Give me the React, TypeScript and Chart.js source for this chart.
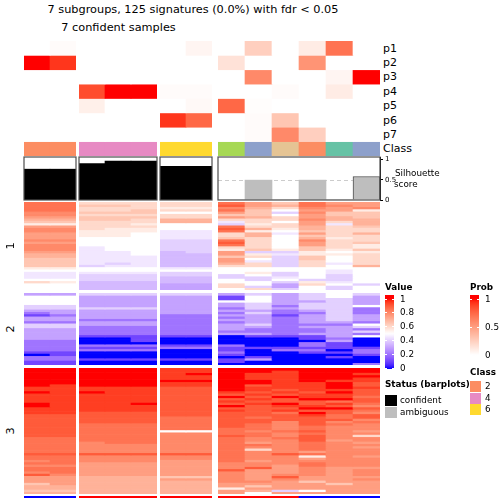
import React, { useEffect, useRef } from "react";
import { Chart, registerables } from "chart.js";

Chart.register(...registerables);

const FONT = '"DejaVu Sans", "Liberation Sans", Arial, sans-serif';

// ---------------- data ----------------
const titleLine1 = "7 subgroups, 125 signatures (0.0%) with fdr < 0.05";
const titleLine2 = "7 confident samples";

const sampleNames = ["s01", "s02", "s03", "s04", "s05", "s06", "s07", "s08", "s09", "s10", "s11", "s12", "s13"];
const sampleClass = [2, 2, 4, 4, 4, 6, 6, 5, 3, 7, 2, 1, 3];
const sampleStatus = ["confident", "confident", "confident", "confident", "confident", "confident", "confident",
  "ambiguous", "ambiguous", "ambiguous", "ambiguous", "ambiguous", "ambiguous"];
const silhouetteScore = [0.76, 0.76, 0.9, 0.96, 0.96, 0.83, 0.83, 0, 0.49, 0, 0.49, 0, 0.58];

const probNames = ["p1", "p2", "p3", "p4", "p5", "p6", "p7"];
const probP1 = [0, 0.02, 0, 0, 0, 0, 0.05, 0, 0.25, 0, 0.1, 0.7, 0];
const probP2 = [1, 0.92, 0, 0, 0, 0, 0, 0.15, 0, 0, 0.55, 0, 0];
const probP3 = [0, 0, 0, 0, 0, 0, 0, 0, 0.6, 0, 0, 0.05, 1];
const probP4 = [0, 0, 0.85, 1, 1, 0.02, 0.02, 0, 0, 0.02, 0, 0.1, 0];
const probP5 = [0, 0, 0.08, 0, 0, 0, 0.03, 0.75, 0.01, 0, 0, 0, 0];
const probP6 = [0, 0, 0, 0, 0, 0.92, 0.75, 0, 0.02, 0.3, 0, 0, 0];
const probP7 = [0, 0, 0, 0, 0, 0, 0, 0, 0.02, 0.6, 0.25, 0, 0];

const classColors: Record<number, string> = {
  1: "#66C2A5", 2: "#FC8D62", 3: "#8DA0CB", 4: "#E78AC3", 5: "#A6D854", 6: "#FFD92F", 7: "#E5C494",
};
const legendClasses = [2, 4, 6];
const valueTicks = [1, 0.8, 0.6, 0.4, 0.2, 0];
const probTicks = [1, 0.5, 0];
const silhouetteTicks = [0, 0.5, 1];

// heatmap values: one character per sample; value = position in VALUE_CODE / 20
// ("0" = 0, "A" = 0.5, "K" = 1)
const VALUE_CODE = "0123456789ABCDEFGHIJK";
const rowGroup1Codes = [
  "HHCCCCCHFDHFF", "HHDDCCCIFEHGF", "HHCCCBBGECGFG", "HHCCDCCHDAFFB", "GGDDDAAFD8GDD",
  "GGCCCCCDDAFDD", "FFDDDCCFECFED", "EEDDCEECCCGEE", "DDCCCEE9CAFCE", "BBCCBAA8BCF9E",
  "FFCCCAAHCCECD", "GGCBBAAIEBECC", "GGBBB99HBADCC", "FFBBA99CE9FCE", "FFBBA99CEADCC",
  "FFAAA99DCAEBC", "GGAAA88HCAGCC", "FFAAA88ICAFCD", "GGAAA88HCAFCB", "GG9AA88CCADCB",
  "GG9AA88BDBDBD", "FF99A78F88BAB", "EE99A77FB9BBC", "EE99977DC8DAC", "DD99977FA8DAC",
  "DD99977F98CAC", "DD98977EC8C9C", "DD89977CC8CAE", "BBAAA99AAAAAA", "AAAAAAAAAAA9A",
  "9999988AB8A9A", "99888888A8A8A", "9988877889A8A", "AA88877A8A88A", "CB77777AA8B9A",
  "AA77766CA6CA8", "AA77766C86A8A", "AA77766AC8A8A",
];
const rowGroup2Codes = [
  "66888886868A8", "AA666662A68A6", "AA666662A6886", "AA66666AA6686", "AA66666686886",
  "886666668488A", "8888866486884", "6666666664684", "4666666484484", "2466644662686",
  "6666644464686", "6644444664686", "4466644464664", "886664468444A", "8844444664668",
  "6644444644464", "6644444444468", "6644444664664", "662222202226A", "6600200000240",
  "4400200000060", "4400000000420", "4444422400420", "4422244222222", "4444400204404",
  "2200000400224", "0200000200002", "4400000020020", "4422222260000", "2200000200000",
  "2200000000004",
];
const rowGroup3Codes = [
  "KKKKKJJKKKKKK", "KKKKKJJKKJKKK", "KKKKKJKKJJKKJ", "KKKKKJJKJJKKK", "KKKKKJJKJJKKJ",
  "KKKKKKKKKJKJJ", "KKKKKJJKKJJKI", "KJKKKJJKIJJKI", "JJJJJIIKJJJKJ", "JJJJJIIKJIJJI",
  "KJKJJIIJIJIKI", "JJJJJIIIJIJJI", "JJJJJIIKIKJJH", "JJJJJIIIJIKKI", "JJJJJIIJIIIHI",
  "KJJJKIIIJKIJH", "KJJJJIIKIJJIG", "JJJJJIIIIIKKI", "JJJJJIIJIJIIH", "JJIIIIIIIHKIG",
  "IIIIIIIIIIJHI", "IIIIIHHIHIIHI", "IIIIIHHIIIIIG", "IIIIIHHIIGIGH", "IIHHHHHIHGIHG",
  "IIHHHHHIHGHGG", "IIHHHHHHHGHGG", "IIHHHAAHGHIGF", "IIHHHGGHHGHGG", "IIHHHGGIHGIGC",
  "HHHHHGGHGHIGG", "HHHHHGGHGGIFG", "HHGHHGGHFGHGF", "HHGGGGGHHGHGG", "HHGGGGGHGGHGF",
  "HHGGGGGHCGHGG", "HHGGGGGHGGFGG", "IIIIIIIHGIHGG", "HHGGGGGHGGBGF", "HHGGGGGHGGFGG",
  "GHGGGFFHFGGGG", "HHFFFFFGGGHGG", "GGFFFFFGGFHGG", "HHFFFFFGIFGFF", "HHFFFFFIFFGFG",
  "GHFFFFFGFFGFG", "IGFFFFFGFGGFG", "FFEEEDDGFIFFF", "FFEEEFFGFGFFG", "FFEEEEEGGFDFF",
  "DFEEEEEFFFFDF", "EEEEEEEFDFFFF", "EEEEEEEBFFFFF", "DDEEEEEFE8AFF", "EEEEEEEFAFFFF",
];
const rowGroup4Codes = ["00KKKKKKKK000"];

// ---------------- colours ----------------
type RGB = [number, number, number];
const toLin = (c: number) => { c /= 255; return c <= 0.04045 ? c / 12.92 : Math.pow((c + 0.055) / 1.055, 2.4); };
const fromLin = (c: number) => { const v = c <= 0.0031308 ? 12.92 * c : 1.055 * Math.pow(Math.max(c, 0), 1 / 2.4) - 0.055; return Math.round(Math.min(1, Math.max(0, v)) * 255); };
const XN = 0.95047, YN = 1, ZN = 1.08883;
function rgbToLab([r0, g0, b0]: RGB): RGB {
  const r = toLin(r0), g = toLin(g0), b = toLin(b0);
  const X = (0.4124564 * r + 0.3575761 * g + 0.1804375 * b) / XN;
  const Y = (0.2126729 * r + 0.7151522 * g + 0.072175 * b) / YN;
  const Z = (0.0193339 * r + 0.119192 * g + 0.9503041 * b) / ZN;
  const f = (t: number) => (t > 0.008856 ? Math.cbrt(t) : 7.787 * t + 16 / 116);
  const fx = f(X), fy = f(Y), fz = f(Z);
  return [116 * fy - 16, 500 * (fx - fy), 200 * (fy - fz)];
}
function labToRgb([L, a, bb]: RGB): string {
  const fy = (L + 16) / 116, fx = fy + a / 500, fz = fy - bb / 200;
  const inv = (t: number) => (t * t * t > 0.008856 ? t * t * t : (t - 16 / 116) / 7.787);
  const X = inv(fx) * XN, Y = inv(fy) * YN, Z = inv(fz) * ZN;
  const r = 3.2404542 * X - 1.5371385 * Y - 0.4985314 * Z;
  const g = -0.969266 * X + 1.8760108 * Y + 0.041556 * Z;
  const b = 0.0556434 * X - 0.2040259 * Y + 1.0572252 * Z;
  return `rgb(${fromLin(r)},${fromLin(g)},${fromLin(b)})`;
}
const LAB_BLUE = rgbToLab([0, 0, 255]);
const LAB_WHITE = rgbToLab([255, 255, 255]);
const LAB_RED = rgbToLab([255, 0, 0]);
const mixLab = (p: RGB, q: RGB, t: number) => labToRgb([p[0] + (q[0] - p[0]) * t, p[1] + (q[1] - p[1]) * t, p[2] + (q[2] - p[2]) * t]);
const clamp01 = (v: number) => Math.min(1, Math.max(0, v));
function valueColor(v: number) {
  v = clamp01(v);
  return v <= 0.5 ? mixLab(LAB_BLUE, LAB_WHITE, v / 0.5) : mixLab(LAB_WHITE, LAB_RED, (v - 0.5) / 0.5);
}
const probColor = (v: number) => mixLab(LAB_WHITE, LAB_RED, clamp01(v));

// ---------------- decoded tables ----------------
const parseRow = (s: string) => s.split("").map((ch) => VALUE_CODE.indexOf(ch) / 20);
const rowGroup1 = rowGroup1Codes.map(parseRow);
const rowGroup2 = rowGroup2Codes.map(parseRow);
const rowGroup3 = rowGroup3Codes.map(parseRow);
const rowGroup4 = rowGroup4Codes.map(parseRow);
const probRows = [probP1, probP2, probP3, probP4, probP5, probP6, probP7];

// ---------------- layout ----------------
const colGroups = [
  { cols: [0, 1], left: 24, width: 52 },
  { cols: [2, 3, 4], left: 79, width: 78 },
  { cols: [5, 6], left: 160, width: 52 },
  { cols: [7, 8, 9, 10, 11, 12], left: 218, width: 162 },
];
const rowBlocks = [
  { rows: rowGroup1, top: 202, height: 88, label: "1" },
  { rows: rowGroup2, top: 293, height: 72, label: "2" },
  { rows: rowGroup3, top: 368, height: 126, label: "3" },
  { rows: rowGroup4, top: 496, height: 2, label: "" },
];
const ANNO_TOP = 41;
const ANNO_ROW_H = 14.375;

// ---------------- chart helpers ----------------
function baseOptions(scales: any, padding: any = 0) {
  return {
    animation: false,
    responsive: false,
    maintainAspectRatio: false,
    devicePixelRatio: 1,
    events: [],
    layout: { padding },
    plugins: { legend: { display: false }, tooltip: { enabled: false }, title: { display: false } },
    scales,
  };
}

function cellsConfig(nRows: number, cols: number[], colorAt: (r: number, c: number) => string) {
  return {
    type: "bar",
    data: {
      labels: cols.map((c) => sampleNames[c]),
      datasets: Array.from({ length: nRows }, (_, r) => ({
        data: cols.map(() => 1),
        backgroundColor: cols.map((c) => colorAt(r, c)),
        borderWidth: 0,
        barPercentage: 1,
        categoryPercentage: 1,
      })),
    },
    options: baseOptions({
      x: { display: false, stacked: true },
      y: { display: false, stacked: true, reverse: true, min: 0, max: nRows },
    }),
  };
}

const boxOutline = {
  id: "boxOutline",
  afterDraw(chart: any) {
    const { ctx, chartArea: a } = chart;
    ctx.save();
    ctx.strokeStyle = "#4D4D4D";
    ctx.lineWidth = 1.2;
    ctx.strokeRect(a.left, a.top, a.right - a.left, a.bottom - a.top);
    ctx.restore();
  },
};
const halfLine = {
  id: "halfLine",
  beforeDatasetsDraw(chart: any) {
    const { ctx, chartArea: a } = chart;
    const y = Math.round(chart.scales.y.getPixelForValue(0.5)) + 0.5;
    ctx.save();
    ctx.strokeStyle = "#CCCCCC";
    ctx.lineWidth = 1;
    ctx.setLineDash([4, 3]);
    ctx.beginPath();
    ctx.moveTo(a.left, y);
    ctx.lineTo(a.right, y);
    ctx.stroke();
    ctx.restore();
  },
};

function silhouetteConfig(cols: number[], withAxis: boolean) {
  const yScale: any = {
    display: withAxis,
    position: "right",
    min: 0,
    max: 1.06,
    afterBuildTicks: (s: any) => { s.ticks = silhouetteTicks.map((v) => ({ value: v })); },
    ticks: { font: { family: FONT, size: 7 }, color: "#000", padding: 2, autoSkip: false, callback: (v: any) => String(v) },
    grid: { drawOnChartArea: false, drawTicks: true, tickLength: 3, tickColor: "#000", tickWidth: 1 },
    border: { display: true, color: "#000", width: 1 },
  };
  if (withAxis) yScale.afterFit = (s: any) => { s.width = 30; };
  return {
    type: "bar",
    data: {
      labels: cols.map((c) => sampleNames[c]),
      datasets: [{
        data: cols.map((c) => silhouetteScore[c]),
        backgroundColor: cols.map((c) => (sampleStatus[c] === "confident" ? "#000000" : "#BEBEBE")),
        borderColor: "#4D4D4D",
        borderWidth: cols.map((c) => (sampleStatus[c] === "ambiguous" && silhouetteScore[c] > 0.5 ? 1 : 0)),
        barPercentage: 1,
        categoryPercentage: 1,
      }],
    },
    options: baseOptions({ x: { display: false }, y: yScale },
      withAxis ? { top: 7, bottom: 7, left: 1, right: 0 } : { top: 7, bottom: 7, left: 1, right: 1 }),
    plugins: withAxis ? [halfLine, boxOutline] : [boxOutline],
  };
}

function ChartCanvas({ left, top, width, height, make }: { left: number; top: number; width: number; height: number; make: () => any }) {
  const ref = useRef<HTMLCanvasElement>(null);
  useEffect(() => {
    const chart = new Chart(ref.current as HTMLCanvasElement, make());
    return () => chart.destroy();
  }, []);
  return <canvas ref={ref} width={width} height={height} style={{ position: "absolute", left, top, width, height, display: "block" }} />;
}

function Txt({ x, y, text, size, bold, align = "left", rotate }: { x: number; y: number; text: string; size: number; bold?: boolean; align?: "left" | "center"; rotate?: boolean }) {
  const common: React.CSSProperties = {
    position: "absolute", fontSize: size, lineHeight: `${size}px`, whiteSpace: "nowrap",
    fontWeight: bold ? "bold" : "normal", fontFamily: FONT, color: "#000",
  };
  if (rotate) {
    return <div style={{ ...common, left: x, top: y, transform: "translate(-50%, -50%) rotate(-90deg)" }}>{text}</div>;
  }
  if (align === "center") {
    return <div style={{ ...common, left: x - 300, width: 600, textAlign: "center", top: y - size / 2 }}>{text}</div>;
  }
  return <div style={{ ...common, left: x, top: y - size / 2 }}>{text}</div>;
}

function gradient(colorOf: (v: number) => string, height: number, y1: number, span: number) {
  const stops: string[] = [];
  const n = 40;
  for (let k = 0; k <= n; k++) {
    const y = (k / n) * height;
    const v = clamp01(1 - (y - y1) / span);
    stops.push(`${colorOf(v)} ${((k / n) * 100).toFixed(1)}%`);
  }
  return `linear-gradient(to bottom, ${stops.join(", ")})`;
}

function ColorBar({ left, top, width, height, y1, span, ticks, colorOf, labelX }: any) {
  return (
    <>
      <div style={{ position: "absolute", left, top, width, height, background: gradient(colorOf, height, y1, span) }} />
      {ticks.map((v: number) => {
        const y = top + y1 + (1 - v) * span;
        return (
          <React.Fragment key={v}>
            <div style={{ position: "absolute", left, top: y - 0.5, width: 2, height: 1, background: "#fff" }} />
            <div style={{ position: "absolute", left: left + width - 2, top: y - 0.5, width: 2, height: 1, background: "#fff" }} />
            <Txt x={labelX} y={y} text={String(v)} size={8.8} />
          </React.Fragment>
        );
      })}
    </>
  );
}

export default function App() {
  const annoColor = (r: number, c: number) => (r < probRows.length ? probColor(probRows[r][c]) : classColors[sampleClass[c]]);
  return (
    <div style={{ position: "fixed", left: 0, top: 0, width: 504, height: 504, background: "#fff", overflow: "hidden", fontFamily: FONT }}>
      <Txt x={193} y={10} text={titleLine1} size={11.3} align="center" />
      <Txt x={118.5} y={27.5} text={titleLine2} size={11.3} align="center" />

      {colGroups.map((g, i) => (
        <ChartCanvas key={`anno${i}`} left={g.left} top={ANNO_TOP} width={g.width} height={Math.round(ANNO_ROW_H * 8)}
          make={() => cellsConfig(probRows.length + 1, g.cols, annoColor)} />
      ))}
      {probNames.map((p, i) => (
        <Txt key={p} x={383} y={ANNO_TOP + ANNO_ROW_H * (i + 0.5)} text={p} size={11} />
      ))}
      <Txt x={383} y={ANNO_TOP + ANNO_ROW_H * 7.5} text="Class" size={11} />

      {colGroups.map((g, i) => {
        const withAxis = i === colGroups.length - 1;
        return (
          <ChartCanvas key={`sil${i}`} left={g.left - 1} top={150} width={g.width + (withAxis ? 31 : 2)} height={57}
            make={() => silhouetteConfig(g.cols, withAxis)} />
        );
      })}
      <Txt x={395} y={173} text="Silhouette" size={8.8} />
      <Txt x={394} y={184} text="score" size={8.8} />

      {rowBlocks.map((b, bi) => colGroups.map((g, gi) => (
        <ChartCanvas key={`h${bi}_${gi}`} left={g.left} top={b.top} width={g.width} height={b.height}
          make={() => cellsConfig(b.rows.length, g.cols, (r, c) => valueColor(b.rows[r][c]))} />
      )))}
      {rowBlocks.filter((b) => b.label).map((b) => (
        <Txt key={b.label} x={10.5} y={b.top + b.height / 2} text={b.label} size={11.3} rotate />
      ))}

      <Txt x={385} y={287.5} text="Value" size={8.8} bold />
      <ColorBar left={385} top={295} width={9} height={74} y1={4} span={69} ticks={valueTicks} colorOf={valueColor} labelX={400} />

      <Txt x={470} y={287.5} text="Prob" size={8.8} bold />
      <ColorBar left={470} top={295} width={9} height={61} y1={4} span={56} ticks={probTicks} colorOf={probColor} labelX={485} />

      <Txt x={470} y={372} text="Class" size={8.8} bold />
      {legendClasses.map((k, i) => (
        <React.Fragment key={k}>
          <div style={{ position: "absolute", left: 470, top: 381 + i * 11.7, width: 11, height: 11, background: classColors[k] }} />
          <Txt x={485} y={386.7 + i * 11.5} text={String(k)} size={8.8} />
        </React.Fragment>
      ))}

      <Txt x={385} y={384.5} text="Status (barplots)" size={8.8} bold />
      <div style={{ position: "absolute", left: 385, top: 394.5, width: 12, height: 11.5, background: "#000" }} />
      <div style={{ position: "absolute", left: 385, top: 406.5, width: 12, height: 11, background: "#BEBEBE" }} />
      <Txt x={400} y={400} text="confident" size={8.8} />
      <Txt x={400} y={412} text="ambiguous" size={8.8} />
    </div>
  );
}
